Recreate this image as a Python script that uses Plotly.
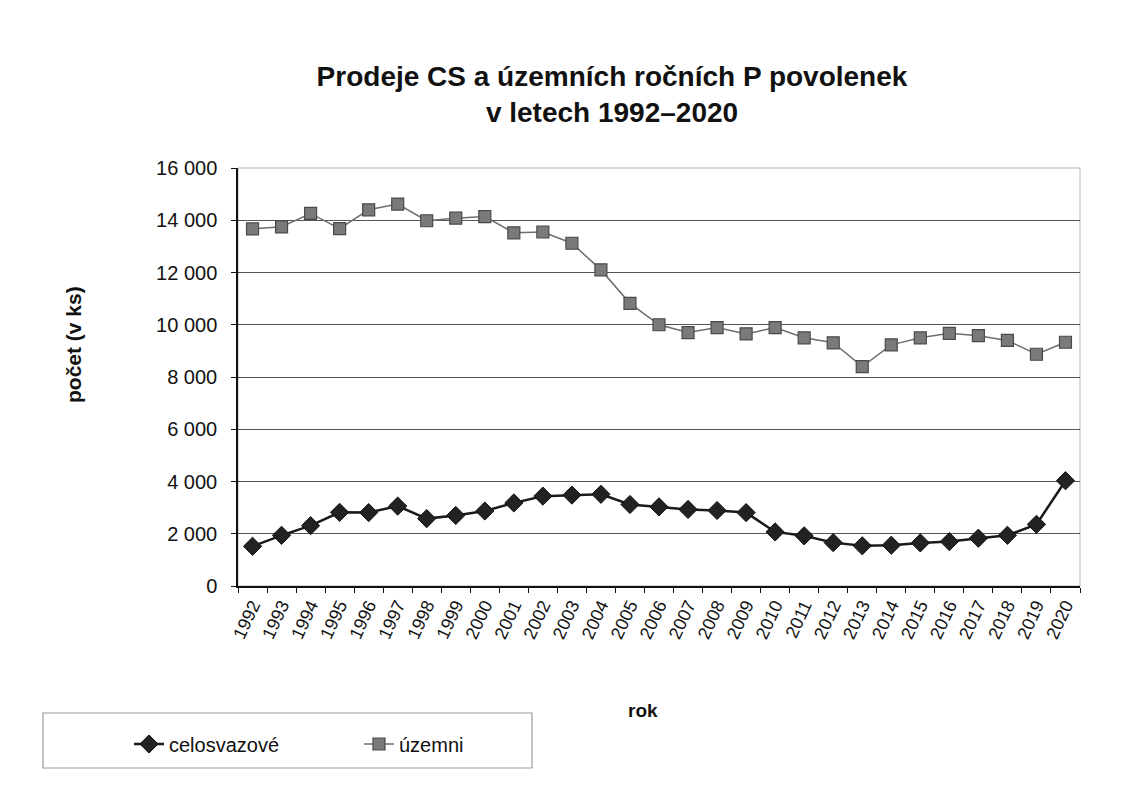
import plotly.graph_objects as go

years = [str(y) for y in range(1992, 2021)]
celosvazove = [1520, 1940, 2310, 2820, 2810, 3060, 2580, 2700, 2870, 3180, 3440, 3480, 3510, 3120,
               3030, 2930, 2890, 2810, 2070, 1920, 1660, 1540, 1560, 1650, 1700, 1830, 1940, 2360, 4030]
uzemni = [13670, 13750, 14260, 13680, 14400, 14620, 13980, 14080, 14140, 13520, 13550, 13120, 12100, 10820,
          10000, 9700, 9890, 9650, 9890, 9500, 9310, 8400, 9230, 9500, 9670, 9580, 9400, 8870, 9330]
y_ticks = [0, 2000, 4000, 6000, 8000, 10000, 12000, 14000, 16000]

FONT = "Arial, Liberation Sans, sans-serif"
W, H = 1121, 790
OFF = 8  # page body margin
L, R, T, B = 238 - OFF, 41 + OFF, 168 - OFF, 204 + OFF
PW, PH = W - L - R, H - T - B


def px_x(xs):
    return (xs - OFF - L) / PW


def px_y(ys):
    return (H - B - (ys - OFF)) / PH


fig = go.Figure()
fig.add_trace(go.Scatter(
    x=years, y=celosvazove, name="celosvazové", mode="lines+markers",
    line=dict(color="#1a1a1a", width=2.5),
    marker=dict(symbol="diamond", size=14, color="#222222", line=dict(color="#111111", width=1)),
))
fig.add_trace(go.Scatter(
    x=years, y=uzemni, name="územni", mode="lines+markers",
    line=dict(color="#6e6e6e", width=1.5),
    marker=dict(symbol="square", size=12, color="#7a7a7a", line=dict(color="#4a4a4a", width=1.2)),
))

fig.update_layout(
    width=W, height=H,
    margin=dict(l=L, r=R, t=T, b=B, autoexpand=False),
    paper_bgcolor="white", plot_bgcolor="white",
    separators=", ",
    font=dict(family=FONT, color="#111111", size=19),
    title=dict(
        text="<b>Prodeje CS a územních ročních P povolenek<br>v letech 1992–2020</b>",
        x=(612 - OFF) / W, xanchor="center", y=1 - (86 - OFF) / H, yanchor="top",
        font=dict(family=FONT, size=28, color="#111111"),
    ),
    xaxis=dict(
        type="category", categoryorder="array", categoryarray=years,
        range=[-0.5, len(years) - 0.5], automargin=False,
        tickangle=-65, tickfont=dict(size=18),
        showline=True, linecolor="#111111", linewidth=1.5,
        ticks="outside", ticklen=5, tickcolor="#111111", tickson="boundaries",
        showgrid=False,
    ),
    yaxis=dict(
        range=[0, 16000], tickvals=y_ticks, tickformat=",d", tickfont=dict(size=20),
        automargin=False, ticklabelstandoff=10,
        showline=True, linecolor="#111111", linewidth=1.5,
        ticks="outside", ticklen=5, tickcolor="#111111",
        showgrid=True, gridcolor="#555555", gridwidth=1,
        zeroline=False,
    ),
    legend=dict(
        orientation="h", xref="container", yref="container",
        x=(129 - OFF) / W, xanchor="left", y=1 - (744 - OFF) / H, yanchor="middle",
        font=dict(size=20), bgcolor="rgba(0,0,0,0)",
        entrywidth=185, entrywidthmode="pixels",
    ),
    annotations=[
        dict(text="<b>počet (v ks)</b>", textangle=-90, xref="paper", yref="paper",
             x=px_x(73), y=px_y(345), xanchor="center", yanchor="middle",
             showarrow=False, font=dict(size=21)),
        dict(text="<b>rok</b>", xref="paper", yref="paper",
             x=px_x(643), y=px_y(710), xanchor="center", yanchor="middle",
             showarrow=False, font=dict(size=19)),
    ],
    shapes=[
        dict(type="rect", xref="paper", yref="paper", x0=0, x1=1, y0=0, y1=1,
             line=dict(color="#b5b5b5", width=1), layer="below"),
        dict(type="rect", xref="paper", yref="paper",
             x0=px_x(43), x1=px_x(532), y0=px_y(768), y1=px_y(713),
             line=dict(color="#9a9a9a", width=1.2)),
    ],
)

fig.write_html("out.html")
